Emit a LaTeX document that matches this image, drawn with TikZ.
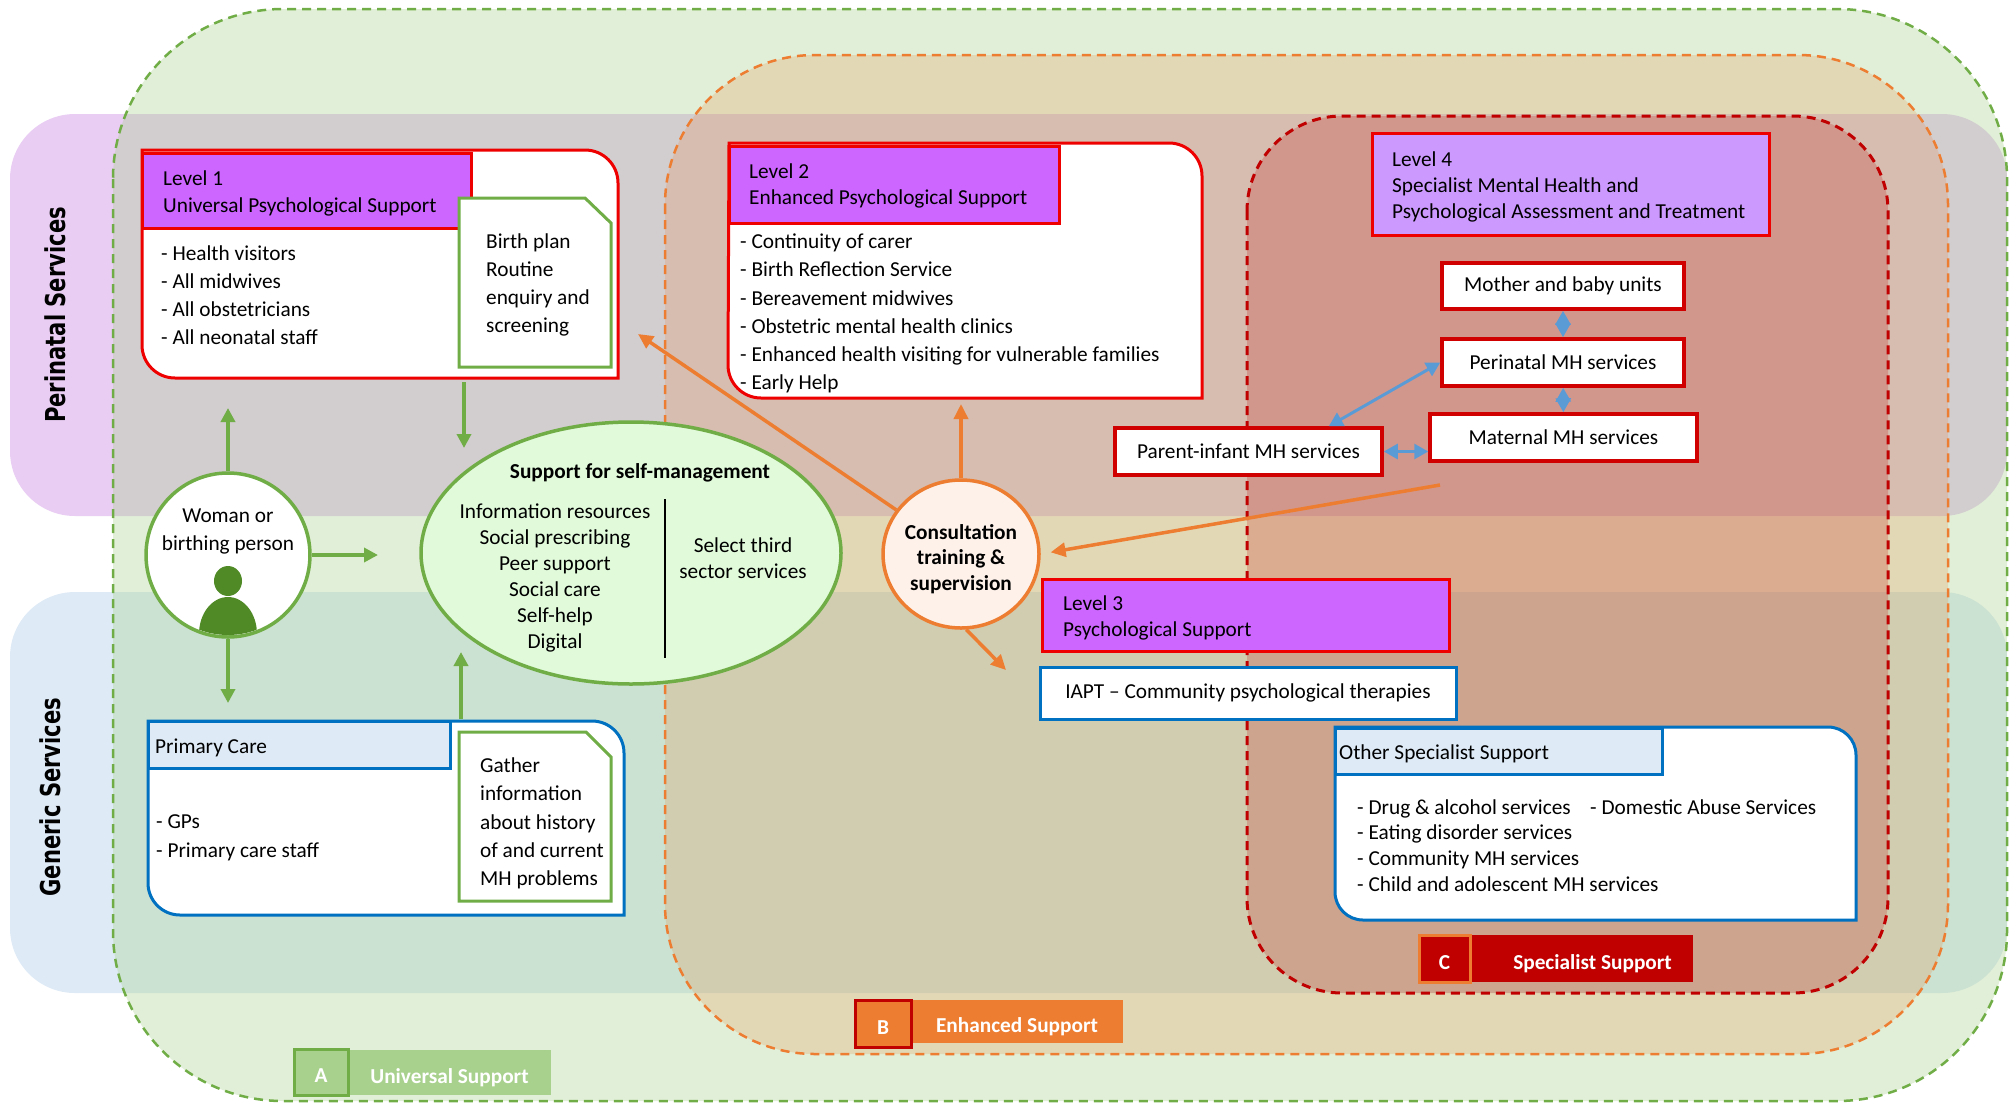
\documentclass[tikz,border=0pt]{standalone}
\usepackage{fontspec}
\setmainfont{Carlito}
\newfontfamily\bandfont{DejaVu Sans}
\usetikzlibrary{arrows.meta,shapes.geometric}

\definecolor{ugreen}{HTML}{70AD47}
\definecolor{lgreen}{HTML}{A9D18E}
\definecolor{dgreen}{HTML}{4F8A26}
\definecolor{eorange}{HTML}{ED7D31}
\definecolor{sred}{HTML}{C00000}
\definecolor{bred}{HTML}{EE0000}
\definecolor{svcred}{HTML}{D00000}
\definecolor{lvlpurple}{HTML}{CC66FF}
\definecolor{lvlfour}{HTML}{CC99FF}
\definecolor{gblue}{HTML}{0070C0}
\definecolor{lblue}{HTML}{DEEBF7}
\definecolor{arrowblue}{HTML}{5B9BD5}
\definecolor{periband}{HTML}{E9CDF3}
\definecolor{genband}{HTML}{DEEAF6}
\definecolor{selffill}{HTML}{E0FADA}
\definecolor{consfill}{HTML}{FDF1EA}

\begin{document}
\begin{tikzpicture}[x=1pt,y=-1pt,
    every node/.style={font=\fontsize{21.3}{28}\selectfont, inner sep=0pt},
    bandlabel/.style={font=\bandfont\bfseries\fontsize{27.4}{30}\selectfont, rotate=90},
    region/.style={line width=2.5pt, dash pattern=on 9pt off 6pt},
    levelhead/.style={draw=bred, fill=lvlpurple, line width=3pt},
    headtext/.style={anchor=west, align=left, font=\fontsize{21.3}{26}\selectfont},
    bluehead/.style={draw=gblue, fill=lblue, line width=3pt},
    svcbox/.style={draw=svcred, fill=white, line width=3.5pt},
    items/.style={anchor=west, align=left},
    tagwide/.style={text=white, text height=21pt, text depth=0pt, font=\bfseries\fontsize{21.3}{26}\selectfont},
    tagletter/.style={text=white, text height=21pt, text depth=0pt, line width=3pt, font=\bfseries\fontsize{21.3}{26}\selectfont},
    garrow/.style={draw=ugreen, line width=3.5pt, -{Triangle[width=14pt,length=14pt]}},
    oarrow/.style={draw=eorange, line width=3.5pt, -{Triangle[width=14pt,length=15pt]}},
    barrow/.style={draw=arrowblue, line width=3pt, {Triangle[width=15pt,length=14pt]}-{Triangle[width=15pt,length=14pt]}}
    ]
    \useasboundingbox (0,0) rectangle (2013,1104);

    % bands and support regions
    \fill[periband, rounded corners=65pt] (10,114) rectangle (2007,516);
    \fill[genband, rounded corners=65pt] (10,592) rectangle (2007,993);
    \draw[region, draw=ugreen, fill=lgreen, fill opacity=0.35, rounded corners=170pt] (113,9) rectangle (2007,1101);
    \draw[region, draw=eorange, fill=eorange, fill opacity=0.2, rounded corners=150pt] (665,55) rectangle (1948,1054);
    \draw[region, line width=3pt, draw=sred, fill=sred, fill opacity=0.2, rounded corners=95pt] (1247,116) rectangle (1888,993);

    \node[bandlabel] (peri) at (55,315) {\scalebox{0.77}[1]{Perinatal Services}};
    \node[bandlabel] (gen) at (50,797) {\scalebox{0.77}[1]{Generic Services}};

    % level 1
    \draw[bred, fill=white, line width=3pt] (142,150) -- (585,150) arc[start angle=90,end angle=0,radius=33pt] -- (618,378) -- (175,378) arc[start angle=270,end angle=180,radius=33pt] -- cycle;
    \node[levelhead, minimum width=329pt, minimum height=75pt] (lvl1) at (306.5,190.5) {};
    \node[headtext, font=\fontsize{21.3}{27}\selectfont] (lvl1txt) at (163,193) {Level 1\\Universal Psychological Support};
    \node[items] (lvl1items) at (161,295) {- Health visitors\\- All midwives\\- All obstetricians\\- All neonatal staff};
    \draw[ugreen, fill=white, line width=3pt] (459,198) -- (585,198) -- (611,223) -- (611,367) -- (459,367) -- cycle;
    \node[items] (plan) at (486,285) {Birth plan\\Routine\\enquiry and\\screening};

    % level 2
    \draw[bred, fill=white, line width=3pt] (729,143) -- (1169,143) arc[start angle=90,end angle=0,radius=33pt] -- (1202,398) -- (761,398) arc[start angle=270,end angle=180,radius=33pt] -- cycle;
    \node[levelhead, minimum width=330pt, minimum height=77pt] (lvl2) at (894,184.5) {};
    \node[headtext] (lvl2txt) at (749,186) {Level 2\\Enhanced Psychological Support};
    \node[items, font=\fontsize{21.3}{28.2}\selectfont] (lvl2items) at (740,313.5) {- Continuity of carer\\- Birth Reflection Service\\- Bereavement midwives\\- Obstetric mental health clinics\\- Enhanced health visiting for vulnerable families\\- Early Help};

    % primary care
    \draw[gblue, fill=white, line width=3pt] (148,721) -- (592,721) arc[start angle=90,end angle=0,radius=32pt] -- (624,915) -- (180,915) arc[start angle=270,end angle=180,radius=32pt] -- cycle;
    \node[bluehead, minimum width=302pt, minimum height=47pt] (pc) at (299,744.5) {};
    \node[headtext] (pctxt) at (155,748) {Primary Care};
    \node[items, font=\fontsize{21.3}{29}\selectfont] (pcitems) at (156,837.5) {- GPs\\- Primary care staff};
    \draw[ugreen, fill=white, line width=3pt] (459,732) -- (586,732) -- (611,757) -- (611,901) -- (459,901) -- cycle;
    \node[items, font=\fontsize{21.3}{28.2}\selectfont] (gather) at (480,823.5) {Gather\\information\\about history\\of and current\\MH problems};

    % woman or birthing person
    \node[circle, draw=ugreen, fill=white, line width=3.5pt, minimum size=164pt] (woman) at (228,555) {};
    \node[align=center] (womantxt) at (228,531) {Woman or\\birthing person};
    \begin{scope}
      \clip (228,555) circle[radius=80pt];
      \fill[dgreen] (228,634) ellipse[x radius=29pt, y radius=37pt];
    \end{scope}
    \fill[dgreen] (228,581) ellipse[x radius=14pt, y radius=15pt];

    % self-management
    \node[ellipse, draw=ugreen, fill=selffill, line width=3.5pt, minimum width=420pt, minimum height=262pt] (self) at (631,553) {};
    \node[font=\bfseries\fontsize{21.3}{26}\selectfont] (selftitle) at (640,473) {Support for self-management};
    \node[align=center, font=\fontsize{21.3}{26}\selectfont] (selflist) at (555,578) {Information resources\\Social prescribing\\Peer support\\Social care\\Self-help\\Digital};
    \draw[line width=2pt] (665,499) -- (665,658);
    \node[align=center, font=\fontsize{21.3}{26}\selectfont] (third) at (743,558) {Select third\\sector services};

    % consultation
    \node[ellipse, draw=eorange, fill=consfill, line width=3.5pt, minimum width=156pt, minimum height=148pt] (consult) at (961,554) {};
    \node[align=center, font=\bfseries\fontsize{21.3}{25.5}\selectfont] (consulttxt) at (961,559) {Consultation\\training \&\\supervision};

    % level 3
    \node[levelhead, minimum width=407pt, minimum height=72pt] (lvl3) at (1245.5,615) {};
    \node[headtext] (lvl3txt) at (1063,618) {Level 3\\Psychological Support};
    \node[draw=gblue, fill=white, line width=3pt, minimum width=416pt, minimum height=52pt] (iapt) at (1248,693) {IAPT -- Community psychological therapies};

    % level 4
    \node[levelhead, fill=lvlfour, minimum width=397pt, minimum height=102pt] (lvl4) at (1570.5,184) {};
    \node[headtext] (lvl4txt) at (1392,187) {Level 4\\Specialist Mental Health and\\Psychological Assessment and Treatment};
    \node[svcbox, minimum width=242pt, minimum height=46pt] (mbu) at (1563,286) {Mother and baby units};
    \node[svcbox, minimum width=242pt, minimum height=47pt] (pmh) at (1563,362.5) {Perinatal MH services};
    \node[svcbox, minimum width=267pt, minimum height=47pt] (mat) at (1563.5,437.5) {Maternal MH services};
    \node[svcbox, minimum width=267pt, minimum height=47pt] (parent) at (1248.5,451.5) {Parent-infant MH services};

    % other specialist support
    \draw[gblue, fill=white, line width=3pt] (1335,727) -- (1828,727) arc[start angle=90,end angle=0,radius=28pt] -- (1856,920) -- (1363,920) arc[start angle=270,end angle=180,radius=28pt] -- cycle;
    \node[bluehead, minimum width=327pt, minimum height=46pt] (other) at (1498.5,751) {};
    \node[headtext] (othertxt) at (1339,754) {Other Specialist Support};
    \node[items, font=\fontsize{21.3}{25.7}\selectfont] (otheritems) at (1357,845.5) {- Drug \& alcohol services\\- Eating disorder services\\- Community MH services\\- Child and adolescent MH services};
    \node[items] (abuse) at (1590,807) {- Domestic Abuse Services};

    % tags
    \node[tagwide, fill=lgreen, minimum width=203pt, minimum height=45pt] (unitag) at (449.5,1072.5) {Universal Support};
    \node[tagletter, fill=lgreen, draw=ugreen, minimum width=54pt, minimum height=46pt] (unia) at (321,1072) {A};
    \node[tagwide, fill=eorange, minimum width=212pt, minimum height=43pt] (enhtag) at (1017,1021.5) {Enhanced Support};
    \node[tagletter, fill=eorange, draw=sred, minimum width=56pt, minimum height=47pt] (enhb) at (883,1023.5) {B};
    \node[fill=sred, minimum width=223pt, minimum height=47pt] (spectag) at (1581.5,958.5) {};
    \node[tagwide, anchor=east] (spectxt) at (1672,958.5) {Specialist Support};
    \node[tagletter, fill=sred, draw=eorange, minimum width=51pt, minimum height=47pt] (specc) at (1444.5,958.5) {C};

    % arrow ends
    \coordinate (l1in) at (228,408);
    \coordinate (selfin) at (378,555);
    \coordinate (pcin) at (228,703);
    \coordinate (l1down) at (464,382);
    \coordinate (selftop) at (464,448);
    \coordinate (pcup) at (461,719);
    \coordinate (selfbot) at (461,652);
    \coordinate (l1tip) at (638,334);
    \coordinate (l2tip) at (961,404);
    \coordinate (iapttip) at (1006,670);
    \coordinate (l4start) at (1440,485);

    \draw[garrow] (woman.north) -- (l1in);
    \draw[garrow] (woman.east) -- (selfin);
    \draw[garrow] (woman.south) -- (pcin);
    \draw[garrow] (l1down) -- (selftop);
    \draw[garrow] (pcup) -- (selfbot);

    \draw[oarrow] (consult) -- (l1tip);
    \draw[oarrow] (consult.north) -- (l2tip);
    \draw[oarrow] (consult.-86) -- (iapttip);
    \draw[oarrow, shorten >=10pt] (l4start) -- (consult.east);

    \draw[barrow] (mbu) -- (pmh);
    \draw[barrow] (pmh) -- (mat);
    \draw[barrow] (pmh.west) -- ([xshift=-55pt]parent.north east);
    \draw[barrow] (parent.east) -- (parent.east -| mat.west);
\end{tikzpicture}
\end{document}
